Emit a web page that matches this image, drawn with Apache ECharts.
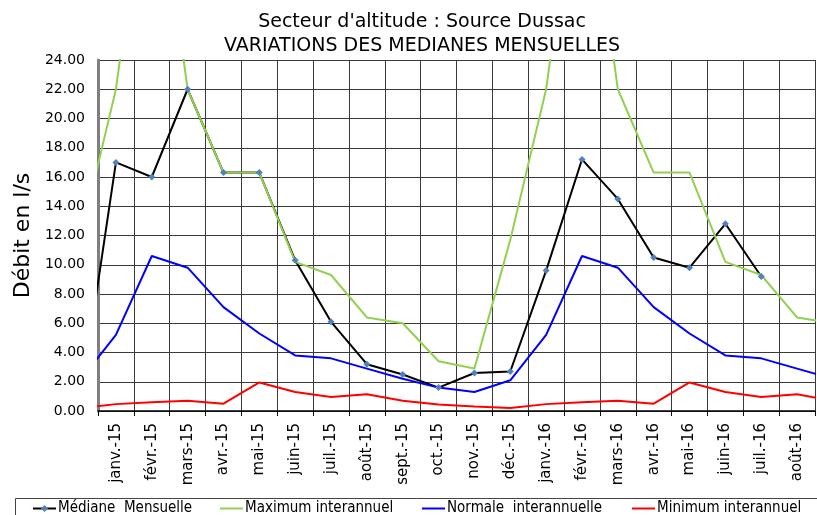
<!DOCTYPE html>
<html>
<head>
<meta charset="utf-8">
<title>Source Dussac - médianes mensuelles</title>
<script src="https://cdn.jsdelivr.net/npm/echarts@6/dist/echarts.min.js"></script>
<style>
  html, body { margin: 0; padding: 0; background: #fff; }
  #chart { width: 817px; height: 515px; }
</style>
</head>
<body>
<div id="chart"></div>
<script>
// mois affichés sur l'axe
const months = ['janv.-15', 'févr.-15', 'mars-15', 'avr.-15', 'mai-15', 'juin-15', 'juil.-15', 'août-15',
  'sept.-15', 'oct.-15', 'nov.-15', 'déc.-15', 'janv.-16', 'févr.-16', 'mars-16', 'avr.-16',
  'mai-16', 'juin-16', 'juil.-16', 'août-16'];

// valeurs de déc.-14 à sept.-16 : le premier et le dernier point sont coupés par le cadre
const mediane = [0.5, 17.0, 16.0, 22.0, 16.3, 16.3, 10.3, 6.1, 3.2, 2.5, 1.6, 2.6, 2.7,
  9.6, 17.2, 14.5, 10.5, 9.8, 12.8, 9.2, null, null];
const maximum = [11.7, 22.0, 40.0, 22.0, 16.3, 16.3, 10.2, 9.3, 6.4, 6.0, 3.4, 2.9, 11.7,
  22.0, 40.0, 22.0, 16.3, 16.3, 10.2, 9.3, 6.4, 6.0];
const normale = [2.1, 5.2, 10.6, 9.8, 7.1, 5.3, 3.8, 3.6, 2.9, 2.2, 1.6, 1.3, 2.1,
  5.2, 10.6, 9.8, 7.1, 5.3, 3.8, 3.6, 2.9, 2.2];
const minimum = [0.2, 0.47, 0.6, 0.7, 0.5, 1.95, 1.3, 0.95, 1.15, 0.7, 0.45, 0.3, 0.2,
  0.47, 0.6, 0.7, 0.5, 1.95, 1.3, 0.95, 1.15, 0.7];

const FONT = 'DejaVu Sans, Verdana, sans-serif';
const FONT_LEG = 'DejaVu Sans Condensed, DejaVu Sans, sans-serif';

// index -1 = déc.-14 sur l'axe numérique caché
const toPoints = (vals) => vals.map((v, i) => [i - 1, v == null ? '-' : v]);

const chart = echarts.init(document.getElementById('chart'), null, { renderer: 'canvas' });

// une légende par série pour garder les positions d'origine
const legendAt = (name, left, plain) => ({
  data: [plain ? { name: name, icon: 'rect' } : name],
  left: left,
  top: 501,
  itemWidth: 23,
  itemHeight: plain ? 2 : 9,
  padding: 0,
  textStyle: { fontFamily: FONT_LEG, fontSize: 15, color: '#000', padding: [0, 0, 0, -3] }
});

chart.setOption({
  animation: false,
  backgroundColor: '#fff',
  title: {
    text: "Secteur d'altitude : Source Dussac\nVARIATIONS DES MEDIANES MENSUELLES",
    left: 417,
    top: 5,
    textAlign: 'center',
    textStyle: { fontFamily: FONT, fontSize: 19, fontWeight: 'normal', color: '#000', lineHeight: 24 }
  },
  grid: { left: 98, right: 2, top: 60, bottom: 104, containLabel: false },
  legend: [
    legendAt('Médiane  Mensuelle', 32, false),
    legendAt('Maximum interannuel', 220, true),
    legendAt('Normale  interannuelle', 422, true),
    legendAt('Minimum interannuel', 632, true)
  ],
  graphic: [{
    type: 'rect',
    shape: { x: 15.5, y: 498.5, width: 820, height: 40 },
    style: { fill: 'none', stroke: '#444', lineWidth: 1 },
    silent: true
  }],
  xAxis: [{
    type: 'category',
    data: months,
    boundaryGap: true,
    axisLine: { lineStyle: { color: '#000', width: 1.5 } },
    axisTick: { show: true, length: 5, lineStyle: { color: '#000' } },
    axisLabel: { rotate: 90, margin: 12, fontFamily: FONT, fontSize: 15, color: '#000', interval: 0 },
    splitLine: { show: true, lineStyle: { color: '#3a3a3a', width: 1 } }
  }, {
    type: 'value',
    min: -0.5,
    max: 19.5,
    show: false
  }],
  yAxis: {
    type: 'value',
    min: 0,
    max: 24,
    interval: 2,
    name: 'Débit en l/s',
    nameLocation: 'middle',
    nameGap: 57,
    nameTextStyle: { fontFamily: FONT, fontSize: 22, color: '#000' },
    axisLine: { show: true, onZero: false, lineStyle: { color: '#7f7f7f', width: 3 } },
    axisTick: { show: false },
    axisLabel: {
      margin: 13, fontFamily: FONT, fontSize: 14, color: '#000',
      formatter: (v) => v.toFixed(2)
    },
    splitLine: { show: true, lineStyle: { color: '#3a3a3a', width: 1 } }
  },
  series: [{
    name: 'Médiane  Mensuelle',
    type: 'line',
    xAxisIndex: 1,
    data: toPoints(mediane),
    symbol: 'diamond',
    symbolSize: 7,
    itemStyle: { color: '#4f81bd' },
    lineStyle: { color: '#000', width: 2 },
    clip: true
  }, {
    name: 'Maximum interannuel',
    type: 'line',
    xAxisIndex: 1,
    data: toPoints(maximum),
    symbol: 'none',
    itemStyle: { color: '#92d050' },
    lineStyle: { color: '#92d050', width: 2 },
    clip: true
  }, {
    name: 'Normale  interannuelle',
    type: 'line',
    xAxisIndex: 1,
    data: toPoints(normale),
    symbol: 'none',
    itemStyle: { color: '#0000ff' },
    lineStyle: { color: '#0000ff', width: 2 },
    clip: true
  }, {
    name: 'Minimum interannuel',
    type: 'line',
    xAxisIndex: 1,
    data: toPoints(minimum),
    symbol: 'none',
    itemStyle: { color: '#ff0000' },
    lineStyle: { color: '#ff0000', width: 2 },
    clip: true
  }]
});
</script>
</body>
</html>
